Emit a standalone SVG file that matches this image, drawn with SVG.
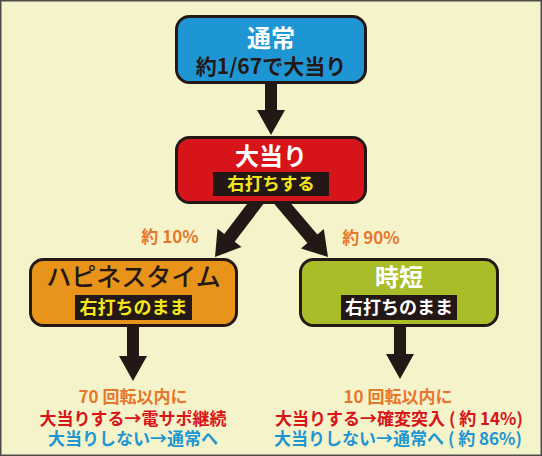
<svg xmlns="http://www.w3.org/2000/svg" width="542" height="456" viewBox="0 0 542 456">
<style>
text{font-family:"Noto Sans CJK JP","Noto Sans",sans-serif;font-weight:bold;text-anchor:middle}
.box{stroke:#231815;stroke-width:3}
.lbl{fill:#231815}
.arr{fill:#231815}
.w{fill:#ffffff}
.y{fill:#f5e61c}
.d{fill:#231815}
.o{fill:#e8772e}
.r{fill:#d7141a}
.b{fill:#1f96d2}
</style>
<rect x="0.75" y="0.75" width="540.5" height="454.5" fill="#f5f3c9" stroke="#4d4d4d" stroke-width="1.5"/>
<g id="connectors">
<polygon class="arr" points="265,80 277,80 277,110 285,110 271,135 257,110 265,110"/>
<polygon class="arr" points="256.8,191.1 267.2,198.9 234.7,241.8 241.5,247.0 215,257 217.5,228.8 224.3,234.0"/>
<polygon class="arr" points="270.5,199.6 280.5,191.2 317.4,234.5 323.8,229.0 328,257 301.0,248.4 307.4,242.9"/>
<polygon class="arr" points="127,322 139,322 139,356 147,356 133,381 119,356 127,356"/>
<polygon class="arr" points="394,322 406,322 406,354 414,354 400,379 386,354 394,354"/>
</g>
<g id="node-normal">
<rect class="box" x="176.5" y="16.5" width="189" height="66" rx="13" fill="#1f96d4"/>
<text class="w" x="271" y="47" font-size="24">通常</text>
<text class="d" x="271" y="74" font-size="21">約1/67で大当り</text>
</g>
<g id="node-jackpot">
<rect class="box" x="176.5" y="137.5" width="189" height="65" rx="13" fill="#d7141a"/>
<text class="w" x="271" y="165" font-size="24">大当り</text>
<rect class="lbl" x="213" y="172" width="116" height="24"/>
<text class="y" x="271" y="190" font-size="17.5">右打ちする</text>
</g>
<g id="label-10">
<text class="o" x="170" y="243" font-size="17">約 10%</text>
</g>
<g id="label-90">
<text class="o" x="371" y="244" font-size="17">約 90%</text>
</g>
<g id="node-happiness">
<rect class="box" x="30.5" y="259.5" width="206" height="66" rx="13" fill="#e8931a"/>
<text class="d" x="133.5" y="286" font-size="25" style="font-weight:500">ハピネスタイム</text>
<rect class="lbl" x="75" y="295" width="117" height="25"/>
<text class="y" x="133.5" y="314" font-size="18">右打ちのまま</text>
</g>
<g id="node-jitan">
<rect class="box" x="300.5" y="259.5" width="197" height="66" rx="13" fill="#a8bd27"/>
<text class="w" x="399" y="286" font-size="24">時短</text>
<rect class="lbl" x="341" y="295" width="116" height="25"/>
<text class="w" x="399" y="314" font-size="18">右打ちのまま</text>
</g>
<g id="result-left">
<text class="o" x="133" y="403" font-size="17">70 回転以内に</text>
<text class="r" x="133" y="425" font-size="17">大当りする→電サポ継続</text>
<text class="b" x="133" y="445" font-size="17">大当りしない→通常へ</text>
</g>
<g id="result-right">
<text class="o" x="398" y="403" font-size="17">10 回転以内に</text>
<text class="r" x="399" y="425" font-size="17">大当りする→確変突入 ( 約 14%)</text>
<text class="b" x="398" y="445" font-size="17">大当りしない→通常へ ( 約 86%)</text>
</g>
</svg>
